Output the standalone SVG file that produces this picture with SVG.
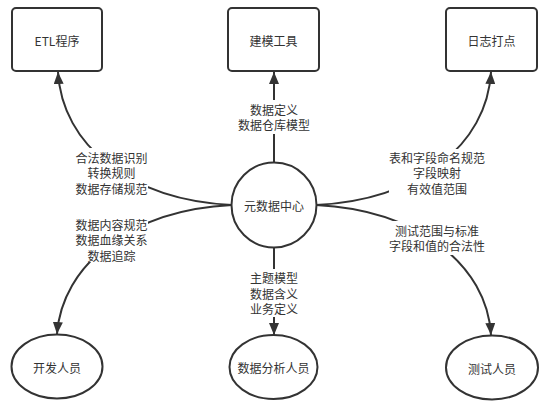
<svg xmlns="http://www.w3.org/2000/svg" width="549" height="408" viewBox="0 0 549 408">
<style>
.node{fill:#fff;stroke:#333;stroke-width:2}
.edge{fill:none;stroke:#333;stroke-width:2}
.t{font-family:"Noto Sans CJK SC","Liberation Sans",sans-serif;font-size:12px;fill:#333;text-anchor:middle;dominant-baseline:central}
.bg{fill:#fff}
</style>
<defs>
<marker id="arr" viewBox="0 0 12 10" refX="12" refY="5" markerWidth="12" markerHeight="10" markerUnits="userSpaceOnUse" orient="auto">
<path d="M0,0 L12,5 L0,10 Z" fill="#333"/>
</marker>
</defs>
<rect width="549" height="408" fill="#fff"/>
<g id="connectors">
<path class="edge" d="M232,205 C130,200 62,145 58,72" marker-end="url(#arr)"/>
<path class="edge" d="M274,163 L274,72" marker-end="url(#arr)"/>
<path class="edge" d="M316,205 C418,200 487,145 491,72" marker-end="url(#arr)"/>
<path class="edge" d="M232,205 C130,210 62,265 57,334" marker-end="url(#arr)"/>
<path class="edge" d="M274,247 L274,335" marker-end="url(#arr)"/>
<path class="edge" d="M316,205 C418,210 487,265 491,335" marker-end="url(#arr)"/>
<rect class="bg" x="74" y="148" width="74" height="42"/>
<text class="t" x="111.5" y="157">合法数据识别</text>
<text class="t" x="111.5" y="172.5">转换规则</text>
<text class="t" x="111.5" y="188">数据存储规范</text>
<rect class="bg" x="238" y="100" width="72" height="34"/>
<text class="t" x="274" y="109">数据定义</text>
<text class="t" x="274" y="124.5">数据仓库模型</text>
<rect class="bg" x="389" y="149" width="96" height="44"/>
<text class="t" x="437" y="157">表和字段命名规范</text>
<text class="t" x="437" y="172.5">字段映射</text>
<text class="t" x="437" y="188">有效值范围</text>
<rect class="bg" x="75" y="216" width="73" height="46"/>
<text class="t" x="111.5" y="224">数据内容规范</text>
<text class="t" x="111.5" y="239.5">数据血缘关系</text>
<text class="t" x="111.5" y="255">数据追踪</text>
<rect class="bg" x="246" y="269" width="56" height="48"/>
<text class="t" x="274" y="277.5">主题模型</text>
<text class="t" x="274" y="293">数据含义</text>
<text class="t" x="274" y="308.5">业务定义</text>
<rect class="bg" x="390" y="221" width="94" height="34"/>
<text class="t" x="437" y="230">测试范围与标准</text>
<text class="t" x="437" y="245.5">字段和值的合法性</text>
</g>
<g id="etl">
<rect class="node" x="12" y="8" width="90" height="63" rx="4"/>
<text class="t" x="57" y="40">ETL程序</text>
</g>
<g id="modeling">
<rect class="node" x="228" y="8" width="91" height="63" rx="4"/>
<text class="t" x="273.5" y="40">建模工具</text>
</g>
<g id="logging">
<rect class="node" x="446" y="8" width="91" height="63" rx="4"/>
<text class="t" x="491.5" y="40">日志打点</text>
</g>
<g id="center">
<circle class="node" cx="274" cy="205" r="42.5"/>
<text class="t" x="274" y="205">元数据中心</text>
</g>
<g id="developer">
<ellipse class="node" cx="57" cy="366.5" rx="45.5" ry="32"/>
<text class="t" x="57" y="367">开发人员</text>
</g>
<g id="analyst">
<ellipse class="node" cx="273.5" cy="367" rx="44" ry="32"/>
<text class="t" x="273.5" y="367">数据分析人员</text>
</g>
<g id="tester">
<ellipse class="node" cx="492" cy="367.5" rx="46" ry="32"/>
<text class="t" x="492" y="368">测试人员</text>
</g>
</svg>
